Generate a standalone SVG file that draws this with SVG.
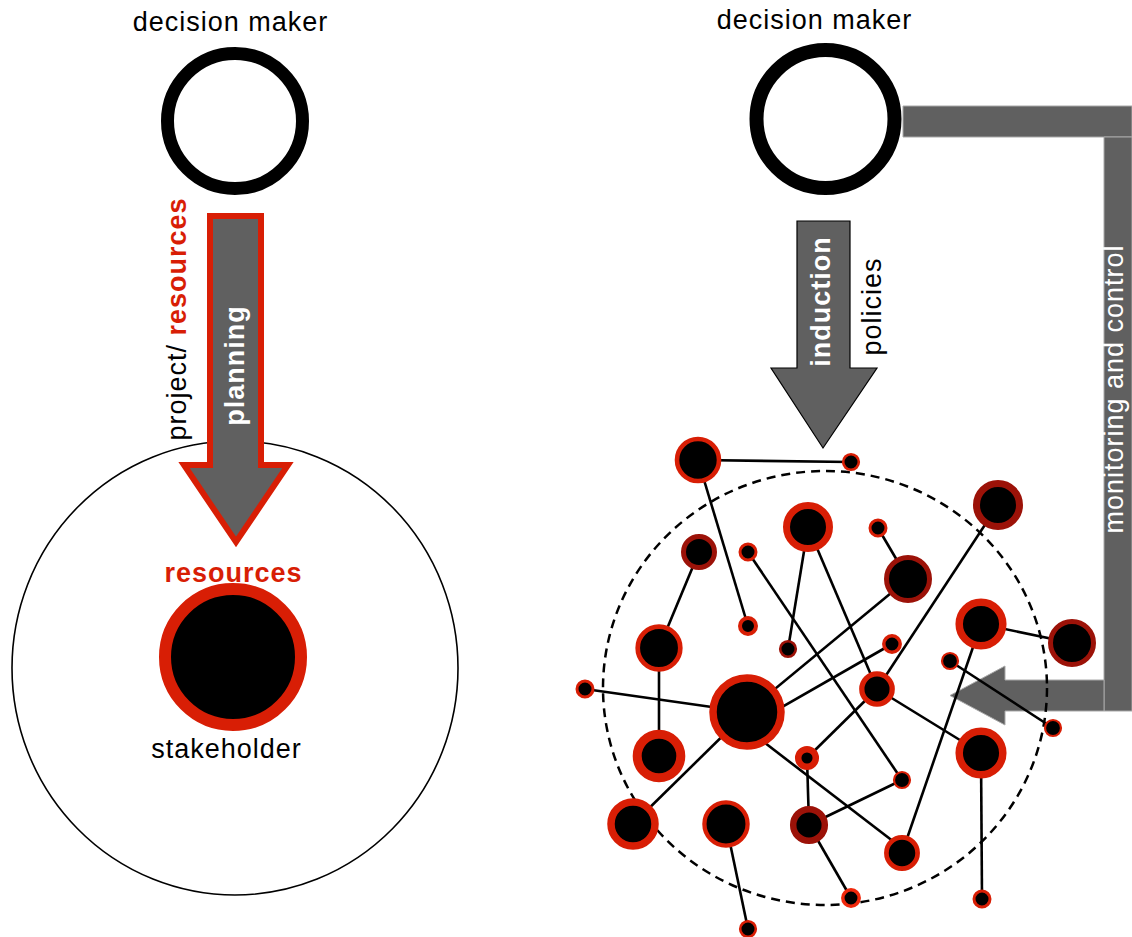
<svg xmlns="http://www.w3.org/2000/svg" width="1132" height="937" viewBox="0 0 1132 937">
<style>
text{font-family:"Liberation Sans",Arial,Helvetica,sans-serif;}
.lbl{font-size:27px;fill:#000;letter-spacing:1px;}
.b{font-weight:bold;}
.red{fill:#d81e05;}
.wt{fill:#fff;}
.dm{fill:none;stroke:#000;}
.bar{fill:#606060;stroke:#a8a8a8;stroke-width:1;}
.c line{stroke:#000;stroke-width:2.6;}
.n{fill:#000;}
.r{stroke:#d81e05;}
.d{stroke:#9c1208;}
</style>

<!-- LEFT -->
<g id="left-decision-maker">
<text class="lbl" x="230.5" y="31" text-anchor="middle">decision maker</text>
<circle class="dm" cx="235" cy="121" r="67.5" stroke-width="13"/>
</g>
<g id="stakeholder-area">
<ellipse cx="235" cy="668" rx="223" ry="227" fill="none" stroke="#000" stroke-width="1.6"/>
</g>
<g id="planning-arrow">
<polygon points="210,216 261,216 261,465 288,465 236,542 184,465 210,465" fill="#606060" stroke="#d81e05" stroke-width="6" stroke-miterlimit="10"/>
<text class="lbl b wt" transform="translate(244,365.5) rotate(-90)" text-anchor="middle">planning</text>
<text class="lbl" transform="translate(186,319) rotate(-90)" text-anchor="middle">project/ <tspan class="b red">resources</tspan></text>
</g>
<g id="stakeholder">
<text class="lbl b red" x="233.5" y="582" text-anchor="middle">resources</text>
<circle cx="233" cy="657" r="68" fill="#000" stroke="#d81e05" stroke-width="12"/>
<text class="lbl" x="226.5" y="758" text-anchor="middle">stakeholder</text>
</g>

<!-- RIGHT -->
<g id="right-decision-maker">
<text class="lbl" x="814.5" y="29" text-anchor="middle">decision maker</text>
<circle class="dm" cx="825.5" cy="119" r="69" stroke-width="14"/>
</g>
<g id="monitoring-control">
<path class="bar" d="M903,106 H1132 V137 H903 Z"/>
<path class="bar" d="M1104,137 H1132 V711 H1104 Z"/>
<path class="bar" d="M1104,680 H1005 V666 L950,695.5 L1005,725 V711 H1104 Z"/>
<text class="lbl wt" transform="translate(1123,389) rotate(-90)" text-anchor="middle">monitoring and control</text>
</g>
<g id="induction-arrow">
<polygon points="797,221 850,221 850,368 877,368 823,448 771,368 797,368" fill="#606060" stroke="#000" stroke-width="1.2"/>
<text class="lbl b wt" transform="translate(830,301.5) rotate(-90)" text-anchor="middle">induction</text>
<text class="lbl" transform="translate(881,306.5) rotate(-90)" text-anchor="middle">policies</text>
</g>
<g id="network-boundary">
<ellipse cx="825" cy="688" rx="222" ry="217" fill="none" stroke="#000" stroke-width="2.5" stroke-dasharray="9 6"/>
</g>

<g id="connectors" class="c">
<line x1="698" y1="460" x2="851" y2="462"/>
<line x1="698" y1="460" x2="748" y2="626"/>
<line x1="808" y1="527" x2="788" y2="649"/>
<line x1="808" y1="527" x2="877" y2="689"/>
<line x1="699" y1="552" x2="659" y2="648"/>
<line x1="748" y1="552" x2="902" y2="780"/>
<line x1="659" y1="648" x2="659" y2="757"/>
<line x1="585" y1="689" x2="747" y2="712"/>
<line x1="747" y1="712" x2="633" y2="824"/>
<line x1="747" y1="712" x2="908" y2="579"/>
<line x1="747" y1="727" x2="892" y2="644"/>
<line x1="877" y1="689" x2="981" y2="753"/>
<line x1="981" y1="753" x2="982" y2="899"/>
<line x1="981" y1="624" x2="1072" y2="643"/>
<line x1="981" y1="624" x2="902" y2="853"/>
<line x1="998" y1="505" x2="877" y2="689"/>
<line x1="877" y1="689" x2="807" y2="758"/>
<line x1="752" y1="733" x2="898" y2="845"/>
<line x1="809" y1="825" x2="902" y2="780"/>
<line x1="807" y1="758" x2="809" y2="825"/>
<line x1="726" y1="824" x2="748" y2="929"/>
<line x1="809" y1="825" x2="851" y2="898"/>
<line x1="950" y1="661" x2="1053" y2="728"/>
<line x1="878" y1="528" x2="908" y2="579"/>
</g>

<g id="nodes">
<circle id="n1" class="n r" cx="698" cy="460" r="21" stroke-width="4.6"/>
<circle id="n2" class="n r" cx="851" cy="462" r="7.8" stroke-width="2.6"/>
<circle id="n3" class="n r" cx="808" cy="527" r="21.5" stroke-width="7"/>
<circle id="n4" class="n d" cx="699" cy="552" r="15.5" stroke-width="5"/>
<circle id="n5" class="n r" cx="748" cy="552" r="8" stroke-width="3"/>
<circle id="n6" class="n r" cx="748" cy="626" r="8" stroke-width="4"/>
<circle id="n7" class="n d" cx="788" cy="649" r="7.8" stroke-width="2.6"/>
<circle id="n8" class="n r" cx="659" cy="648" r="21.3" stroke-width="4.7"/>
<circle id="n9" class="n r" cx="878" cy="528" r="8" stroke-width="3"/>
<circle id="n10" class="n d" cx="908" cy="579" r="21.5" stroke-width="5"/>
<circle id="n11" class="n d" cx="998" cy="505" r="21.5" stroke-width="7"/>
<circle id="n12" class="n r" cx="981" cy="624" r="21.8" stroke-width="7.5"/>
<circle id="n13" class="n d" cx="1072" cy="643" r="21.5" stroke-width="5"/>
<circle id="n14" class="n r" cx="892" cy="644" r="8.2" stroke-width="3.5"/>
<circle id="n15" class="n r" cx="950" cy="661" r="8" stroke-width="2.2"/>
<circle id="n16" class="n r" cx="877" cy="689" r="15.2" stroke-width="5.3"/>
<circle id="n17" class="n r" cx="1053" cy="728" r="8" stroke-width="2.2"/>
<circle id="n18" class="n r" cx="981" cy="753" r="21.8" stroke-width="7.5"/>
<circle id="n19" class="n r" cx="902" cy="780" r="8" stroke-width="2.2"/>
<circle id="n20" class="n r" cx="902" cy="853" r="15.6" stroke-width="4.7"/>
<circle id="n21" class="n" cx="851" cy="898" r="8.2" stroke="#f0280c" stroke-width="3.5"/>
<circle id="n22" class="n r" cx="982" cy="899" r="8" stroke-width="3"/>
<circle id="n23" class="n r" cx="585" cy="689" r="8" stroke-width="3"/>
<circle id="n24" class="n r" cx="747" cy="712" r="34" stroke-width="7.5"/>
<circle id="n25" class="n r" cx="659" cy="756" r="21.8" stroke-width="9"/>
<circle id="n26" class="n r" cx="633" cy="824" r="22" stroke-width="7.5"/>
<circle id="n27" class="n r" cx="726" cy="824" r="21.6" stroke-width="4.3"/>
<circle id="n28" class="n r" cx="748" cy="929" r="7.8" stroke-width="2.6"/>
<circle id="n29" class="n r" cx="807" cy="758" r="8.8" stroke-width="6.5"/>
<circle id="n30" class="n d" cx="809" cy="825" r="15.8" stroke-width="6.5"/>
</g>
</svg>
